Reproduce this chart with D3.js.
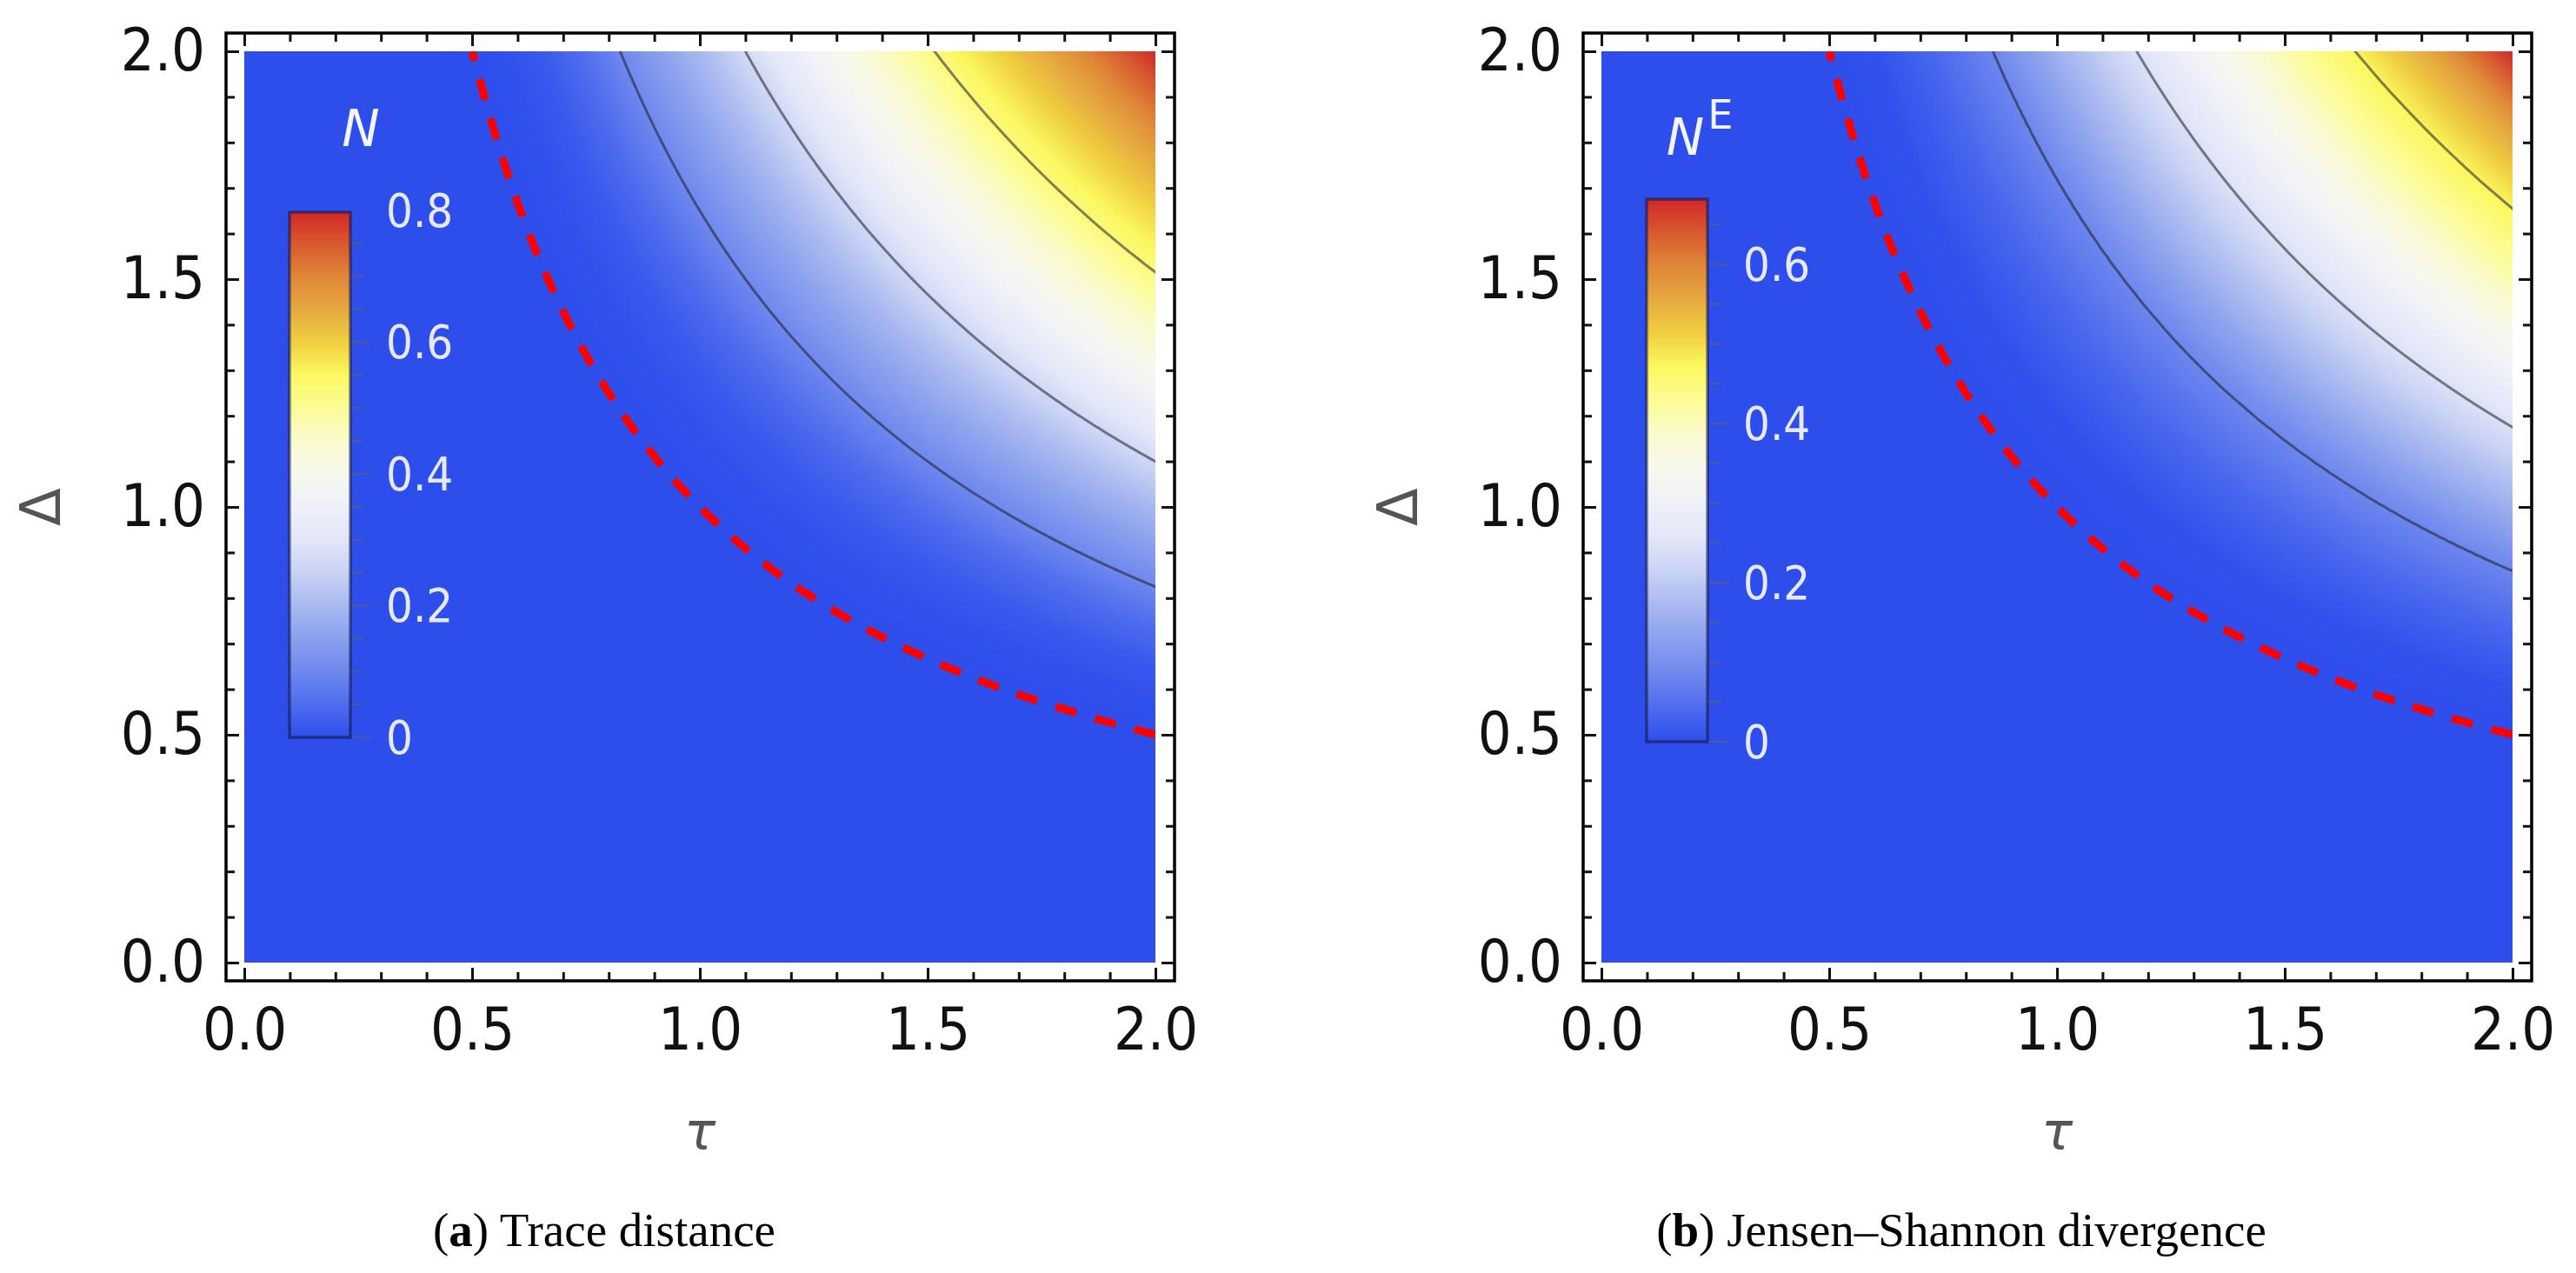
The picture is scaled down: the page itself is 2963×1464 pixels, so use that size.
<!DOCTYPE html>
<html>
<head>
<meta charset="utf-8">
<script src="https://cdn.jsdelivr.net/npm/d3@7"></script>
<style>
  body { margin: 0; background: #fff; }
</style>
</head>
<body>
<script>
// axis ticks (same for tau and Delta)
const majorTicks = [0, 0.5, 1, 1.5, 2];
const minorTicks = d3.range(0, 2.001, 0.1).filter(t => Math.abs(t * 2 - Math.round(t * 2)) > 1e-6);

// captions
const captionBold = ["a", "b"];
const captionText = ["Trace distance", "Jensen\u2013Shannon divergence"];

// legends
const legendSup = ["", "E"];
const legendTicksA = [0, 0.2, 0.4, 0.6, 0.8];
const legendTicksB = [0, 0.2, 0.4, 0.6];
const legendMaxA = 0.797;
const legendMaxB = 0.682;

// field: value of N against the product tau*Delta
const productA = [1.0, 1.15, 1.3, 1.47, 1.65, 2.0, 2.2, 2.34, 2.57, 2.79, 3.03, 3.32, 3.55, 3.77, 4.0];
const valueA   = [0, 0.004, 0.018, 0.05, 0.10, 0.20, 0.265, 0.315, 0.39, 0.455, 0.525, 0.60, 0.66, 0.725, 0.797];
const productB = [1.0, 1.2, 1.45, 1.72, 2.03, 2.35, 2.68, 3.0, 3.31, 3.64, 4.0];
const valueB   = [0, 0.004, 0.035, 0.083, 0.165, 0.245, 0.33, 0.41, 0.475, 0.56, 0.682];

// contour levels
const contourA = [0.10, 0.265, 0.525];
const contourB = [0.083, 0.245, 0.475];

// red dashed boundary (tau*Delta = 1)
const boundaryTau   = [0.5, 0.55, 0.6, 0.65, 0.7, 0.8, 0.9, 1.0, 1.1, 1.2, 1.35, 1.5, 1.65, 1.8, 2.0];
const boundaryDelta = [2.0, 1.82, 1.667, 1.538, 1.429, 1.25, 1.111, 1.0, 0.909, 0.833, 0.741, 0.667, 0.606, 0.556, 0.5];

// colour map (TemperatureMap-like)
const cmapStops  = [0, 0.0625, 0.125, 0.1875, 0.25, 0.3125, 0.375, 0.45, 0.5, 0.5625, 0.625, 0.69, 0.75, 0.8125, 0.875, 0.9375, 1];
const cmapColors = ["#2e4eec", "#4e6cee", "#6e88ee", "#8aa0ee", "#a8b8f0", "#c8d2f4", "#e2e6f8", "#f0f2f8",
                    "#f6f8ee", "#fafad0", "#fcfc98", "#fbf860", "#f0d040", "#e6aa40", "#e08838", "#d85a30", "#d02828"];

const products = [productA, productB];
const values = [valueA, valueB];
const contourLevels = [contourA, contourB];
const legendTicks = [legendTicksA, legendTicksB];
const legendMax = [legendMaxA, legendMaxB];

// layout
const W = 2963, H = 1464;
const panelShift = 1561;
const plotLeft = 281, plotRight = 1329, plotTop = 59, plotBottom = 1107;
const frameLeft = 260, frameRight = 1351, frameTop = 38, frameBottom = 1128;
const barLeft = 52, barWidth = 70;              // relative to plotLeft
const barTop = [244, 229], barBottom = [848, 853];
const titleX = [415, 1955], titleY = [168, 178];
const captionX = 695, captionY = 1433;
const tickFont = "'DejaVu Sans Condensed', 'DejaVu Sans', sans-serif";

const cmap = d3.scaleLinear().domain(cmapStops).range(cmapColors).interpolate(d3.interpolateRgb).clamp(true);
const lut = d3.range(1001).map(i => { const c = d3.rgb(cmap(i / 1000)); return [c.r, c.g, c.b]; });

const svg = d3.select("body").append("svg")
  .attr("width", W)
  .attr("height", H)
  .attr("viewBox", `0 0 ${W} ${H}`);

const defs = svg.append("defs");

function drawPanel(k) {
  const dx = k * panelShift;
  const x = d3.scaleLinear([0, 2], [plotLeft + dx, plotRight + dx]);
  const y = d3.scaleLinear([0, 2], [plotBottom, plotTop]);
  const field = d3.scaleLinear().domain(products[k]).range(values[k]).clamp(true);
  const vmax = legendMax[k];
  const g = svg.append("g");

  defs.append("clipPath").attr("id", "clip" + k)
    .append("rect")
    .attr("x", x(0)).attr("y", y(2))
    .attr("width", x(2) - x(0)).attr("height", y(0) - y(2));

  // density
  const w = Math.round(x(2) - x(0)), h = Math.round(y(0) - y(2));
  const cv = document.createElement("canvas");
  cv.width = w; cv.height = h;
  const ctx = cv.getContext("2d");
  const img = ctx.createImageData(w, h);
  for (let py = 0; py < h; py++) {
    const d = y.invert(plotTop + py + 0.5);
    for (let px = 0; px < w; px++) {
      const t = x.invert(plotLeft + dx + px + 0.5);
      const f = field(t * d) / vmax;
      const c = lut[Math.max(0, Math.min(1000, Math.round(f * 1000)))];
      const o = (py * w + px) * 4;
      img.data[o] = c[0]; img.data[o + 1] = c[1]; img.data[o + 2] = c[2]; img.data[o + 3] = 255;
    }
  }
  ctx.putImageData(img, 0, 0);
  g.append("image")
    .attr("x", x(0)).attr("y", y(2))
    .attr("width", w).attr("height", h)
    .attr("preserveAspectRatio", "none")
    .attr("href", cv.toDataURL());

  // contours
  const step = 0.01, n = 221;
  const grid = new Float64Array(n * n);
  for (let j = 0; j < n; j++)
    for (let i = 0; i < n; i++) grid[j * n + i] = field(i * step * j * step);
  const cs = d3.contours().size([n, n]).thresholds(contourLevels[k])(grid);
  const proj = d3.geoTransform({
    point(gx, gy) { this.stream.point(x((gx - 0.5) * step), y((gy - 0.5) * step)); }
  });
  g.append("g")
    .attr("clip-path", `url(#clip${k})`)
    .selectAll("path")
    .data(cs)
    .enter()
    .append("path")
    .attr("d", d3.geoPath(proj))
    .attr("fill", "none")
    .attr("stroke", "rgba(30,30,40,0.55)")
    .attr("stroke-width", 3);

  // red dashed boundary
  const line = d3.line().x(d => x(d[0])).y(d => y(d[1])).curve(d3.curveMonotoneX);
  g.append("path")
    .attr("clip-path", `url(#clip${k})`)
    .attr("d", line(d3.zip(boundaryTau, boundaryDelta)))
    .attr("fill", "none")
    .attr("stroke", "#ff0000")
    .attr("stroke-width", 9)
    .attr("stroke-dasharray", "25 22")
    .attr("stroke-dashoffset", 14);

  // legend bar
  const gid = "grad" + k;
  const grad = defs.append("linearGradient").attr("id", gid)
    .attr("x1", 0).attr("y1", 1).attr("x2", 0).attr("y2", 0);
  grad.selectAll("stop").data(cmapStops).enter().append("stop")
    .attr("offset", d => d)
    .attr("stop-color", (d, i) => cmapColors[i]);

  const bx = plotLeft + dx + barLeft;
  const ly = d3.scaleLinear([0, vmax], [barBottom[k], barTop[k]]);
  g.append("rect")
    .attr("x", bx).attr("y", ly(vmax))
    .attr("width", barWidth).attr("height", ly(0) - ly(vmax))
    .attr("fill", `url(#${gid})`)
    .attr("stroke", "rgba(20,20,60,0.55)")
    .attr("stroke-width", 3.5);

  const lt = d3.range(0, vmax + 1e-9, 0.05);
  g.selectAll(".lt").data(lt).enter().append("line")
    .attr("x1", bx + barWidth + 1.75)
    .attr("x2", d => bx + barWidth + (Math.abs(d * 5 - Math.round(d * 5)) < 1e-6 ? 24 : 15))
    .attr("y1", d => ly(d)).attr("y2", d => ly(d))
    .attr("stroke", "#4a58a8")
    .attr("stroke-width", 2.5);

  g.selectAll(".ll").data(legendTicks[k]).enter().append("text")
    .attr("x", bx + barWidth + 41)
    .attr("y", d => ly(d) + 19)
    .attr("font-family", tickFont)
    .attr("font-size", 54)
    .attr("fill", "#e6e9ff")
    .text(d => d === 0 ? "0" : d3.format(".1f")(d));

  const title = g.append("text")
    .attr("x", titleX[k]).attr("y", titleY[k])
    .attr("text-anchor", "middle")
    .attr("font-family", "'DejaVu Sans', sans-serif")
    .attr("font-size", 58)
    .attr("fill", "#f2f4ff");
  title.append("tspan").attr("font-style", "italic").text("N");
  if (legendSup[k]) {
    title.append("tspan").attr("font-size", 46).attr("dy", -30).attr("dx", 4).text(legendSup[k]);
  }

  // frame
  g.append("rect")
    .attr("x", frameLeft + dx).attr("y", frameTop)
    .attr("width", frameRight - frameLeft).attr("height", frameBottom - frameTop)
    .attr("fill", "none")
    .attr("stroke", "#000")
    .attr("stroke-width", 3.5);

  // ticks on all four sides
  function axisStyle(sel) {
    sel.select(".domain").remove();
    sel.selectAll(".tick line").attr("stroke-width", 3);
    sel.attr("font-family", tickFont).attr("font-size", 68);
  }
  const sides = [
    [d3.axisBottom(x), `translate(0,${frameBottom})`],
    [d3.axisTop(x), `translate(0,${frameTop})`],
    [d3.axisLeft(y), `translate(${frameLeft + dx},0)`],
    [d3.axisRight(y), `translate(${frameRight + dx},0)`]
  ];
  sides.forEach(([ax, tr], s) => {
    const labelled = s === 0 || s === 2;
    g.append("g").attr("transform", tr).attr("color", "#111")
      .call(ax.tickValues(majorTicks).tickSize(-15).tickPadding(s === 0 ? 31 : 24)
        .tickFormat(labelled ? d3.format(".1f") : ""))
      .call(axisStyle);
    g.append("g").attr("transform", tr).attr("color", "#111")
      .call(ax.tickValues(minorTicks).tickSize(-10).tickFormat(""))
      .call(axisStyle);
  });

  // axis titles
  g.append("text")
    .attr("transform", `translate(${47 + dx},583) rotate(-90)`)
    .attr("text-anchor", "middle")
    .attr("dominant-baseline", "central")
    .attr("font-family", "'DejaVu Sans', sans-serif")
    .attr("font-size", 64)
    .attr("fill", "#555")
    .text("\u0394");
  g.append("text")
    .attr("x", x(1)).attr("y", 1322)
    .attr("text-anchor", "middle")
    .attr("font-family", "'DejaVu Sans', sans-serif")
    .attr("font-style", "italic")
    .attr("font-size", 60)
    .attr("fill", "#555")
    .text("\u03c4");

  // caption
  const cap = g.append("text")
    .attr("x", captionX + dx).attr("y", captionY)
    .attr("text-anchor", "middle")
    .attr("font-family", "'Liberation Serif', serif")
    .attr("font-size", 55)
    .attr("fill", "#000");
  cap.append("tspan").text("(");
  cap.append("tspan").attr("font-weight", "bold").text(captionBold[k]);
  cap.append("tspan").text(") " + captionText[k]);
}

[0, 1].forEach(drawPanel);
</script>
</body>
</html>
